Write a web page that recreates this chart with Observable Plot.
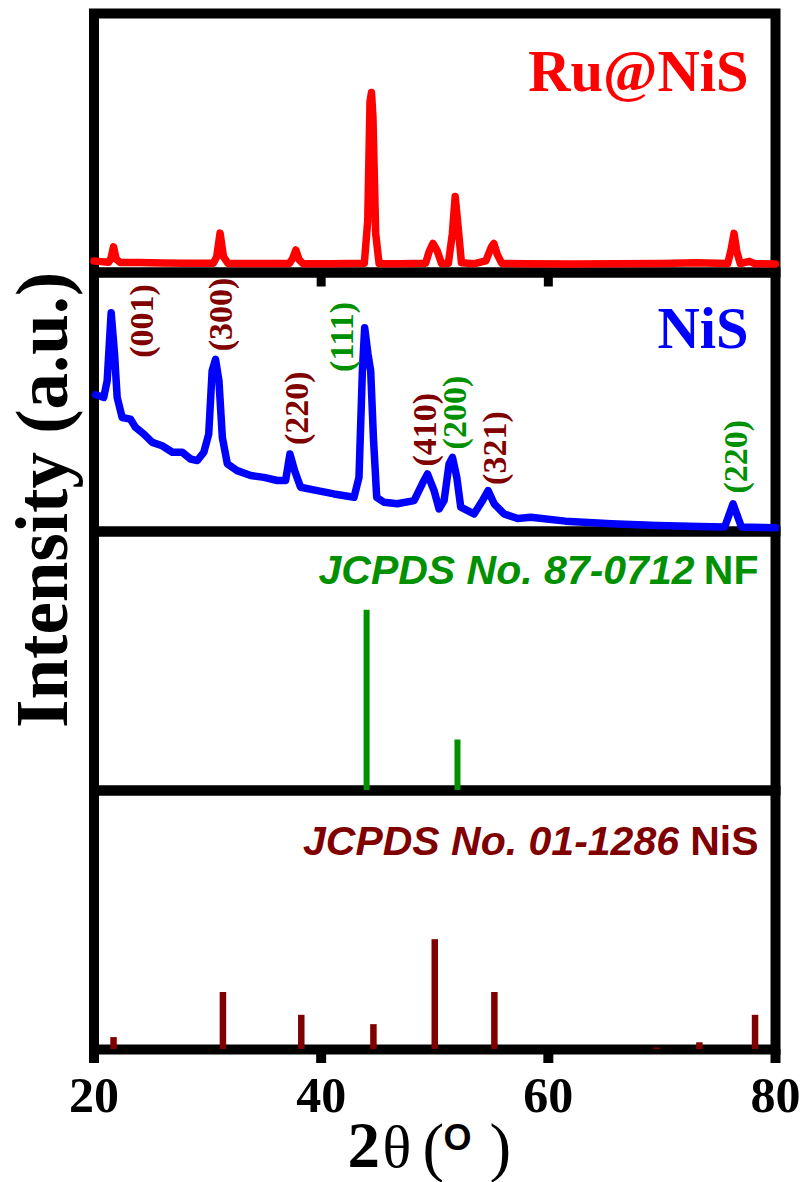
<!DOCTYPE html>
<html><head><meta charset="utf-8">
<script src="https://cdn.jsdelivr.net/npm/d3@7"></script>
<script src="https://cdn.jsdelivr.net/npm/@observablehq/plot@0.6"></script>
<style>body{margin:0;background:#fff}</style>
</head><body><div id="chart"></div>
<script>
// ---------- data ----------
const panels = ["A", "B", "C", "D"];
const xTicks = [20, 40, 60, 80];
const innerTicks = [40, 60];

// Ru@NiS pattern (2θ, intensity a.u.)
const ruTheta = [20.0, 20.6, 21.3, 21.5, 21.72, 21.95, 22.3, 24, 26, 28, 30.5, 30.8, 31.1, 31.4, 31.8, 34, 37.2, 37.5, 37.77, 38.05, 38.4, 41, 43.8, 44.1, 44.3, 44.43, 44.56, 44.8, 45.1, 47, 49.2, 49.5, 49.84, 50.2, 50.6, 51.2, 51.55, 51.8, 52.05, 52.35, 53.5, 54.5, 55.0, 55.2, 55.5, 55.9, 58, 62, 66, 70, 73, 75.8, 76.1, 76.35, 76.6, 76.9, 77.7, 78.2, 80];
const ruI = [4.4, 4.2, 4.0, 5.5, 9.9, 5.2, 3.9, 3.9, 3.7, 3.6, 3.6, 6.0, 15.2, 6.0, 3.5, 3.5, 3.5, 5.5, 8.7, 5.0, 3.4, 3.4, 3.6, 20, 66, 69.5, 60, 15, 3.4, 3.4, 3.6, 8, 11.2, 8.5, 3.5, 3.6, 15, 29.3, 18, 3.8, 3.4, 4.5, 10, 11.2, 7, 3.5, 3.4, 3.3, 3.4, 3.5, 3.8, 3.5, 9, 15.1, 8, 3.4, 4.3, 3.4, 3.3];

// NiS pattern
const nisTheta = [20.13, 20.86, 21.16, 21.51, 21.81, 22.04, 22.48, 23.2, 23.66, 24.39, 25.13, 26.0, 26.9, 27.77, 28.5, 29.1, 29.67, 30.1, 30.4, 30.7, 31.0, 31.3, 31.74, 32.6, 33.8, 34.96, 36.14, 36.87, 37.25, 37.66, 38.19, 39.66, 41.13, 42.89, 43.33, 43.63, 43.83, 44.12, 44.36, 44.6, 44.89, 45.53, 46.7, 48.18, 48.9, 49.36, 49.94, 50.38, 50.82, 51.26, 51.56, 51.94, 52.29, 53.46, 54.2, 54.7, 55.23, 56.1, 57.3, 58.46, 61.5, 65.57, 69.63, 73.3, 75.53, 76.26, 77.0, 80.0];
const nisI = [52.8, 51.8, 58.2, 84.5, 68.5, 51.8, 44.0, 43.4, 40.2, 37.6, 34.4, 33.1, 30.6, 30.6, 28.0, 27.4, 30.6, 37.6, 62.0, 66.5, 58.2, 36.3, 26.1, 23.5, 21.6, 20.9, 19.7, 19.7, 29.9, 23.5, 17.1, 15.8, 14.5, 13.2, 20.9, 62.0, 78.7, 68.5, 62.0, 36.3, 13.2, 11.3, 10.7, 11.9, 18.4, 22.2, 15.8, 8.7, 11.9, 26.1, 28.6, 20.9, 9.4, 6.8, 11.9, 15.8, 10.7, 6.8, 5.0, 5.5, 4.0, 3.0, 2.3, 1.9, 1.7, 10.7, 1.7, 1.4];

// JCPDS No. 87-0712 (Ni foam)
const nfTheta = [44.0, 52.0];
const nfI = [69.6, 19.5];

// JCPDS No. 01-1286 (NiS)
const jcTheta = [21.72, 31.35, 38.25, 44.6, 50.0, 55.25, 69.55, 73.3, 78.2];
const jcI = [4.6, 22.0, 13.2, 9.6, 42.4, 22.0, 0.6, 2.6, 13.2];

// hkl annotations on the NiS pattern
const hklText = ["(001)", "(300)", "(220)", "(111)", "(410)", "(200)", "(321)", "(220)"];
const hklTheta = [24.27, 31.23, 37.84, 41.8, 49.12, 51.76, 55.28, 76.5];
const hklI = [81.3, 83.8, 47.6, 75.1, 39.3, 45.9, 32.2, 28.9];
const hklPhase = ["NiS", "NiS", "NiS", "Ni", "NiS", "Ni", "NiS", "Ni"];

const titles = ["Ru@NiS", "NiS", "JCPDS No. 87-0712", "NF", "JCPDS No. 01-1286", "NiS"];

// ---------- build tables ----------
const zip = (T, I, p) => T.map((t, i) => ({t, v: I[i], panel: p}));
const ru = zip(ruTheta, ruI, "A");
const nis = zip(nisTheta, nisI, "B");
const nf = zip(nfTheta, nfI, "C");
const jc = zip(jcTheta, jcI, "D");
const hkl = hklText.map((s, i) => ({s, t: hklTheta[i], v: hklI[i], phase: hklPhase[i], panel: "B"}));

const SERIF = "'Liberation Serif', 'Times New Roman', serif";
const SANS = "'Liberation Sans', Arial, sans-serif";
const DARKRED = "#800000";
const GREEN = "#009000";
const one = (s, p) => [{s, panel: p}];

const chart = Plot.plot({
  width: 801,
  height: 1182,
  marginLeft: 93.5,
  marginRight: 26,
  marginTop: 12,
  marginBottom: 132,
  style: {fontFamily: SERIF, background: "white", overflow: "visible"},
  x: {domain: [20, 80], label: null},
  y: {domain: [0, 100], axis: null},
  fy: {domain: panels, axis: null, padding: 0},
  marks: [
    Plot.frame({stroke: "black", strokeWidth: 10}),
    Plot.ruleX(innerTicks.map(t => ({t, panel: "B"})), {x: "t", fy: "panel", y1: 100, y2: 94.4, stroke: "black", strokeWidth: 9}),
    Plot.axisX({ticks: xTicks, tickSize: 14, tickPadding: 13, strokeWidth: 10, fontSize: 50, fontWeight: "bold", fontFamily: SERIF, label: null, tickFormat: d => String(d), fill: "black"}),
    Plot.line(ru, {x: "t", y: "v", fy: "panel", stroke: "#ff0000", strokeWidth: 7.5, strokeLinejoin: "round"}),
    Plot.line(nis, {x: "t", y: "v", fy: "panel", stroke: "#0000ff", strokeWidth: 7.5, strokeLinejoin: "round"}),
    Plot.ruleX(nf, {x: "t", y1: 0, y2: "v", fy: "panel", stroke: GREEN, strokeWidth: 6}),
    Plot.ruleX(jc, {x: "t", y1: 0, y2: "v", fy: "panel", stroke: DARKRED, strokeWidth: 6.5}),
    Plot.text(hkl.filter(d => d.phase === "NiS"), {x: "t", y: "v", text: "s", fy: "panel", rotate: -90, fill: DARKRED, fontSize: 34, fontWeight: "bold", fontFamily: SERIF, textAnchor: "middle", lineAnchor: "middle"}),
    Plot.text(hkl.filter(d => d.phase === "Ni"), {x: "t", y: "v", text: "s", fy: "panel", rotate: -90, fill: GREEN, fontSize: 34, fontWeight: "bold", fontFamily: SERIF, textAnchor: "middle", lineAnchor: "middle"}),
    // panel titles
    Plot.text(one(titles[0], "A"), {text: "s", fy: "panel", frameAnchor: "top-right", dx: -27, dy: 77, textAnchor: "end", lineAnchor: "bottom", fill: "#ff0000", fontSize: 58.5, fontWeight: "bold", fontFamily: SERIF}),
    Plot.text(one(titles[1], "B"), {text: "s", fy: "panel", frameAnchor: "top-right", dx: -27, dy: 75.5, textAnchor: "end", lineAnchor: "bottom", fill: "#0000ff", fontSize: 58.5, fontWeight: "bold", fontFamily: SERIF}),
    Plot.text(one(titles[2], "C"), {text: "s", fy: "panel", frameAnchor: "top-right", dx: -81, dy: 52, textAnchor: "end", lineAnchor: "bottom", fill: GREEN, fontSize: 41, fontWeight: "bold", fontStyle: "italic", fontFamily: SANS}),
    Plot.text(one(titles[3], "C"), {text: "s", fy: "panel", frameAnchor: "top-right", dx: -17, dy: 52, textAnchor: "end", lineAnchor: "bottom", fill: GREEN, fontSize: 41, fontWeight: "bold", fontFamily: SANS}),
    Plot.text(one(titles[4], "D"), {text: "s", fy: "panel", frameAnchor: "top-right", dx: -96.5, dy: 64.5, textAnchor: "end", lineAnchor: "bottom", fill: DARKRED, fontSize: 41, fontWeight: "bold", fontStyle: "italic", fontFamily: SANS}),
    Plot.text(one(titles[5], "D"), {text: "s", fy: "panel", frameAnchor: "top-right", dx: -17, dy: 64.5, textAnchor: "end", lineAnchor: "bottom", fill: DARKRED, fontSize: 41, fontWeight: "bold", fontFamily: SANS}),
    // y axis label
    Plot.text(one("Intensity (a.u.)", "B"), {text: "s", fy: "panel", frameAnchor: "left", dx: -50.5, dy: 97.75, rotate: -90, textAnchor: "middle", lineAnchor: "middle", fill: "black", fontSize: 73, fontWeight: "bold", fontFamily: SERIF}),
    // x axis label: 2θ (°)
    Plot.text(one("2", "D"), {text: "s", fy: "panel", frameAnchor: "bottom-left", dx: 253.5, dy: 117, textAnchor: "start", lineAnchor: "bottom", fill: "black", fontSize: 65, fontWeight: "bold", fontFamily: SERIF}),
    Plot.text(one("θ", "D"), {text: "s", fy: "panel", frameAnchor: "bottom-left", dx: 288.5, dy: 117, textAnchor: "start", lineAnchor: "bottom", fill: "black", fontSize: 60, fontFamily: SERIF}),
    Plot.text(one("(", "D"), {text: "s", fy: "panel", frameAnchor: "bottom-left", dx: 328.5, dy: 119, textAnchor: "start", lineAnchor: "bottom", fill: "black", fontSize: 65, fontFamily: SERIF}),
    Plot.text(one("O", "D"), {text: "s", fy: "panel", frameAnchor: "bottom-left", dx: 349.5, dy: 100, textAnchor: "start", lineAnchor: "bottom", fill: "black", fontSize: 36, fontWeight: "bold", fontFamily: SANS}),
    Plot.text(one(")", "D"), {text: "s", fy: "panel", frameAnchor: "bottom-left", dx: 395.5, dy: 119, textAnchor: "start", lineAnchor: "bottom", fill: "black", fontSize: 65, fontFamily: SERIF})
  ]
});
document.getElementById("chart").appendChild(chart);
</script>
</body></html>
